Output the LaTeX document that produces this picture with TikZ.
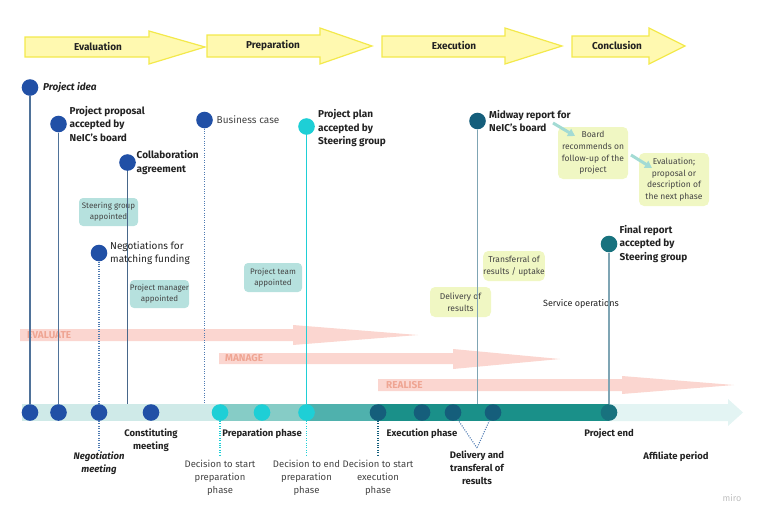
\documentclass[tikz,border=0pt]{standalone}
\usepackage{fontspec}
\setmainfont{Fira Sans}
\usetikzlibrary{positioning, arrows.meta}
\definecolor{phasefill}{HTML}{FFF9B0}
\definecolor{phasedraw}{HTML}{F3E94C}
\definecolor{ideablue}{HTML}{2150A6}
\definecolor{plancyan}{HTML}{1ECFD6}
\definecolor{execteal}{HTML}{155E7B}
\definecolor{endteal}{HTML}{18727E}
\definecolor{stemblue}{HTML}{4F7299}
\definecolor{stemteal}{HTML}{7FA5B4}
\definecolor{dotblue}{HTML}{4F7BB2}
\definecolor{teambox}{HTML}{B6E1DE}
\definecolor{resultbox}{HTML}{F0F7C3}
\definecolor{mgmtpink}{HTML}{FBD6D0}
\definecolor{mgmtlabel}{HTML}{EFA593}
\definecolor{tlone}{HTML}{CFEAE8}
\definecolor{tltwo}{HTML}{86CCC6}
\definecolor{tlthree}{HTML}{4FB1AD}
\definecolor{tlfour}{HTML}{1A9089}
\definecolor{tlfive}{HTML}{E3F4F3}
\definecolor{hintteal}{HTML}{A3DBD4}
\definecolor{darktext}{HTML}{222222}
\definecolor{softtext}{HTML}{444444}
\tikzset{
	milestone/.style={
			circle,
			minimum size=16.6pt,
			inner sep=0pt
		},
	ideanode/.style={milestone, fill=ideablue},
	plannode/.style={milestone, fill=plancyan},
	execnode/.style={milestone, fill=execteal},
	endnode/.style={milestone, fill=endteal}
}
\tikzset{
	phasearrow/.style={fill=phasefill, draw=phasedraw, line width=1.2pt},
	phasetext/.style={font=\fontsize{10}{12}\selectfont\bfseries, text=darktext},
	mgmtarrow/.style={fill=mgmtpink, draw=none},
	mgmttext/.style={font=\fontsize{10}{12}\selectfont\bfseries, text=mgmtlabel, anchor=west, inner sep=0pt},
	eventtext/.style={font=\fontsize{10}{13.5}\selectfont\bfseries, text=darktext, align=left, inner sep=0pt},
	plaintext/.style={font=\fontsize{10}{13.5}\selectfont, text=softtext, align=left, inner sep=0pt},
	belowtext/.style={font=\fontsize{9.5}{13}\selectfont\bfseries, text=darktext, align=center, inner sep=0pt},
	decisiontext/.style={font=\fontsize{9.5}{13}\selectfont, text=softtext, align=center, inner sep=0pt},
	teamnode/.style={
			rounded corners=4pt,
			fill=teambox,
			align=center,
			text=softtext,
			font=\fontsize{8}{10.7}\selectfont,
			inner sep=0pt
		},
	resultnode/.style={
			rounded corners=5pt,
			fill=resultbox,
			align=center,
			text=softtext,
			font=\fontsize{8.5}{11.7}\selectfont,
			inner sep=0pt
		},
	stemline/.style={line width=1.1pt},
	dotline/.style={line width=1.1pt, dash pattern=on 1pt off 1.4pt},
	hintline/.style={draw=hintteal, line width=3pt, -{Triangle[length=7pt, width=8pt]}}
}

\begin{document}
\begin{tikzpicture}[x=1pt, y=-1pt]
\useasboundingbox (0,0) rectangle (762,520);

\draw[phasearrow] (25,37) -- (149,37) -- (149,31) -- (205,47) -- (149,64) -- (149,57) -- (25,57) -- cycle;
\draw[phasearrow] (207,35) -- (320,35) -- (320,28) -- (372,46) -- (320,64) -- (320,57) -- (207,57) -- cycle;
\draw[phasearrow] (382,36) -- (505,36) -- (505,28) -- (562,46) -- (505,64) -- (505,57) -- (382,57) -- cycle;
\draw[phasearrow] (572,36) -- (649,36) -- (649,28) -- (685,46) -- (649,64) -- (649,57) -- (572,57) -- cycle;
\node[phasetext] (ph1) at (98,47) {Evaluation};
\node[phasetext] (ph2) at (273,46) {Preparation};
\node[phasetext] (ph3) at (454,46) {Execution};
\node[phasetext] (ph4) at (617,46) {Conclusion};

\fill[mgmtarrow] (20,329) -- (293,329) -- (293,325) -- (418,335) -- (293,345) -- (293,341) -- (20,341) -- cycle;
\fill[mgmtarrow] (219,353) -- (453,353) -- (453,349) -- (560,359) -- (453,369) -- (453,364) -- (219,364) -- cycle;
\fill[mgmtarrow] (378,379) -- (622,379) -- (622,376) -- (734,385) -- (622,394) -- (622,391) -- (378,391) -- cycle;
\node[mgmttext] (mg1) at (27,335) {EVALUATE};
\node[mgmttext] (mg2) at (225,358.5) {MANAGE};
\node[mgmttext] (mg3) at (386,385) {REALISE};

\fill[tlfive] (609,404) -- (728,404) -- (728,399) -- (743,412.5) -- (728,426) -- (728,421) -- (609,421) -- cycle;
\fill[tlone] (22,404) rectangle (220,421);
\fill[tltwo] (220,404) rectangle (307,421);
\fill[tlthree] (307,404) rectangle (378,421);
\fill[tlfour] (378,404) rectangle (609,421);

\node[teamnode, minimum width=59pt, minimum height=28pt] (b1) at (108.5,212) {Steering group\\appointed};
\node[teamnode, minimum width=59pt, minimum height=28pt] (b2) at (159.5,294) {Project manager\\appointed};
\node[teamnode, minimum width=58pt, minimum height=29pt] (b3) at (273,277.5) {Project team\\appointed};
\node[resultnode, minimum width=70pt, minimum height=52pt] (r1) at (593,153) {Board\\recommends on\\follow-up of the\\project};
\node[resultnode, minimum width=70pt, minimum height=53pt] (r2) at (674,179.5) {Evaluation;\\proposal or\\description of\\the next phase};
\node[resultnode, minimum width=60pt, minimum height=30pt] (r3) at (514,266) {Transferral of\\results / uptake};
\node[resultnode, minimum width=61pt, minimum height=30pt] (r4) at (460.5,302) {Delivery of\\results};
\node[plaintext, text=darktext, font=\fontsize{9}{11}\selectfont] (svc) at (581,304) {Service operations};

\node[ideanode] (e1) at (30,87.5) {};
\node[ideanode] (e2) at (58.5,124) {};
\node[ideanode] (e3) at (127.5,162.5) {};
\node[ideanode] (e4) at (204.5,120) {};
\node[plannode] (e5) at (306.5,126.5) {};
\node[execnode] (e6) at (477.5,121) {};
\node[endnode] (e7) at (609,244) {};
\node[ideanode] (e8) at (99,253) {};

\node[ideanode] (t1) at (30,412.5) {};
\node[ideanode] (t2) at (58.5,412.5) {};
\node[ideanode] (t3) at (99,412.5) {};
\node[ideanode] (t4) at (151,412.5) {};
\node[plannode] (t5) at (220,412.5) {};
\node[plannode] (t6) at (262,412.5) {};
\node[plannode] (t7) at (306.5,412.5) {};
\node[execnode] (t8) at (378,412.5) {};
\node[execnode] (t9) at (422,412.5) {};
\node[execnode] (t10) at (453,412.5) {};
\node[execnode] (t11) at (493,412.5) {};
\node[endnode] (t12) at (609,412.5) {};

\coordinate (c3) at (127.5,404);
\coordinate (c4) at (204.5,404);
\coordinate (c6) at (477.5,404);
\coordinate (n3) at (99,452);
\coordinate (d5) at (220,456);
\coordinate (d7) at (306.5,456);
\coordinate (d8) at (378,456);
\coordinate (vv) at (477,448);
\coordinate (h1) at (553,123);
\coordinate (h2) at (575,136);
\coordinate (h3) at (631,155);
\coordinate (h4) at (652,168);

\draw[stemline, stemblue] (e1) -- (t1);
\draw[stemline, stemblue] (e2) -- (t2);
\draw[stemline, stemblue!90!black] (e3) -- (c3);
\draw[dotline, dotblue] (e4) -- (c4);
\draw[stemline, plancyan] (e5) -- (t7);
\draw[stemline, stemteal] (e6) -- (c6);
\draw[stemline, stemteal] (e7) -- (t12);
\draw[dotline, dotblue] (e8) -- (t3);
\draw[dotline, dotblue] (t3) -- (n3);
\draw[dotline, plancyan] (t5) -- (d5);
\draw[dotline, plancyan] (t7) -- (d7);
\draw[dotline, execteal] (t8) -- (d8);
\draw[dotline, dotblue] (t10) -- (vv);
\draw[dotline, dotblue] (t11) -- (vv);

\draw[hintline] (h1) -- (h2);
\draw[hintline] (h3) -- (h4);

\node[eventtext, right=4.5pt of e1, font=\fontsize{10}{13.5}\selectfont\bfseries\itshape] (l1) {Project idea};
\node[eventtext, right=2.5pt of e2] (l2) {Project proposal\\accepted by\\NeIC's board};
\node[eventtext, right=0.5pt of e3] (l3) {Collaboration\\agreement};
\node[plaintext, right=3.5pt of e4] (l4) {Business case};
\node[eventtext, right=3pt of e5, yshift=-2pt] (l5) {Project plan\\accepted by\\Steering group};
\node[eventtext, right=3pt of e6] (l6) {Midway report for\\NeIC's board};
\node[eventtext, right=2pt of e7] (l7) {Final report\\accepted by\\Steering group};
\node[plaintext, text=darktext, right=2.5pt of e8] (l8) {Negotiations for\\matching funding};

\node[belowtext, below=8pt of t4] (s4) {Constituting\\meeting};
\node[belowtext, below=0pt of n3, font=\fontsize{9.5}{13}\selectfont\bfseries\itshape] (s3) {Negotiation\\meeting};
\node[belowtext, below=8pt of t6] (s6) {Preparation phase};
\node[belowtext, below=8pt of t9] (s9) {Execution phase};
\node[belowtext, below=8pt of t12] (s12) {Project end};
\node[decisiontext, below=4pt of d5] (s5) {Decision to start\\preparation\\phase};
\node[decisiontext, below=4pt of d7] (s7) {Decision to end\\preparation\\phase};
\node[decisiontext, below=4pt of d8] (s8) {Decision to start\\execution\\phase};
\node[belowtext, below=3pt of vv] (sv) {Delivery and\\transferal of\\results};
\node[belowtext] (aff) at (676,457) {Affiliate period};
\node[plaintext, text=black!25, font=\fontsize{9}{11}\selectfont] (miro) at (732,498) {miro};

\end{tikzpicture}
\end{document}
